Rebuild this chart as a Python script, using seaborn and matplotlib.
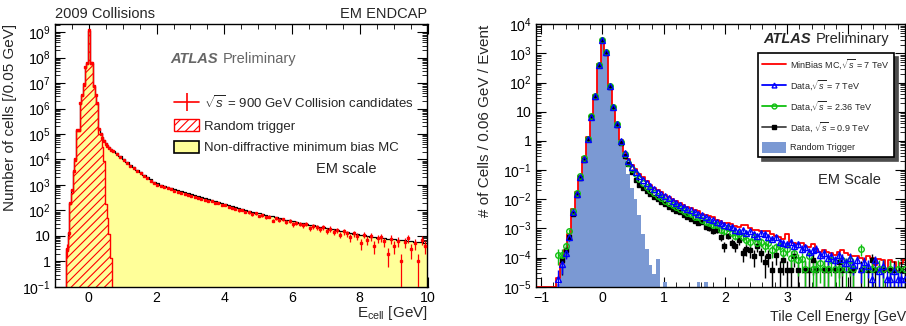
import numpy as np
import matplotlib
matplotlib.use("Agg")
import matplotlib.pyplot as plt
import seaborn as sns
from matplotlib.lines import Line2D
from matplotlib.patches import Patch
from matplotlib.ticker import LogLocator, MultipleLocator, FuncFormatter, NullFormatter

# ---------------- left panel: EM endcap, 2009 collisions ----------------
# log10(number of cells / 0.05 GeV)
# core: 27 bins of 0.05 GeV centred on -0.65 ... 0.65
em_rt_core = [0.4, 1.0, 2.24, 2.7, 3.5, 3.94, 5.13, 5.13, 6.18, 6.5, 6.9, 7.6, 7.75, 9.05,
              7.75, 7.75, 6.83, 6.5, 6.18, 5.0, 5.0, 4.5, 3.94, 2.24, 1.7, 1.06, 0.14]
em_mc_core = [0.5, 1.1, 2.3, 2.8, 3.55, 4.0, 5.15, 5.15, 6.2, 6.55, 6.95, 7.65, 7.8, 9.05,
              7.8, 7.8, 6.9, 6.55, 6.2, 5.2, 5.05, 4.88, 4.76, 4.65, 4.56, 4.48, 4.41]
em_data_core = [0.5, 1.1, 2.3, 2.8, 3.55, 4.0, 5.15, 5.15, 6.2, 6.55, 6.95, 7.65, 7.8, 9.07,
                7.8, 7.8, 6.9, 6.55, 6.2, 5.2, 5.0, 4.85, 4.72, 4.62, 4.53, 4.45, 4.38]
# tail: 93 bins of 0.1 GeV from 0.675 to 10
em_mc_tail = [4.35, 4.24, 4.12, 4.01, 3.91, 3.80, 3.70, 3.60, 3.50, 3.40,
              3.31, 3.22, 3.13, 3.06, 3.01, 2.97, 2.93, 2.89, 2.85, 2.81,
              2.77, 2.73, 2.69, 2.65, 2.61, 2.57, 2.53, 2.49, 2.45, 2.42,
              2.38, 2.34, 2.30, 2.26, 2.22, 2.18, 2.14, 2.10, 2.07, 2.03,
              1.99, 1.95, 1.91, 1.88, 1.85, 1.82, 1.79, 1.76, 1.73, 1.70,
              1.67, 1.64, 1.61, 1.58, 1.55, 1.52, 1.50, 1.47, 1.44, 1.41,
              1.38, 1.36, 1.33, 1.30, 1.27, 1.25, 1.22, 1.19, 1.17, 1.14,
              1.11, 1.08, 1.06, 1.04, 1.02, 1.00, 0.97, 0.95, 0.93, 0.92,
              0.90, 0.89, 0.87, 0.86, 0.84, 0.83, 0.82, 0.80, 0.79, 0.77,
              0.76, 0.74, 0.72]
em_data_tail = [4.32, 4.2, 4.08, 3.97, 3.86, 3.76, 3.65, 3.55, 3.45, 3.34,
                3.26, 3.16, 3.08, 3.0, 2.95, 2.9, 2.86, 2.83, 2.78, 2.74,
                2.7, 2.65, 2.62, 2.58, 2.52, 2.5, 2.45, 2.42, 2.36, 2.36,
                2.3, 2.27, 2.2, 2.2, 2.12, 2.1, 2.06, 2.0, 2.02, 1.93,
                1.92, 1.85, 1.88, 1.78, 1.8, 1.72, 1.75, 1.6, 1.7, 1.62,
                1.65, 1.55, 1.58, 1.45, 1.52, 1.48, 1.42, 1.46, 1.3, 1.38,
                1.33, 1.25, 1.35, 1.2, 1.28, 1.15, 1.22, 1.05, 1.18, 1.1,
                0.95, 1.1, 1.0, 0.7, 1.05, 0.85, 0.98, 0.6, 0.9, 0.95,
                0.78, 0.3, 0.88, 0.6, 0.8, 0.0, 0.75, 0.9, 0.48, 0.7,
                0.0, 0.85, 0.6]

# ---------------- right panel: Tile calorimeter ----------------
# log10(# cells / 0.06 GeV / event), bins centred on k*0.06 GeV, k = -18 .. 83
tile_mc7 = [-5, -5, -5, -5, -5, -5, -4.7, -4.2, -3.75, -3.2,
            -2.35, -1.75, -1.2, -0.55, 0.12, 0.88, 1.58, 2.65, 3.5, 3.05,
            1.9, 1.2, 0.6, 0.02, -0.38, -0.62, -0.82,
            -0.98, -1.12, -1.25, -1.38, -1.5, -1.6, -1.68, -1.76, -1.84, -1.92,
            -1.98, -2.05, -2.12, -2.2, -2.25, -2.3, -2.38, -2.42, -2.5, -2.55,
            -2.58, -2.6, -2.72, -2.75, -2.8, -2.8, -2.85, -2.92, -2.95, -2.88,
            -2.9, -3.0, -3.05, -3.05, -3.1, -3.08, -3.1, -3.2, -3.25, -3.3,
            -3.35, -3.2, -3.45, -3.5, -3.55, -3.5, -3.6, -3.65, -3.55, -3.7,
            -3.8, -3.75, -3.8, -3.85, -3.9, -3.8, -3.75, -3.85, -3.9, -3.95,
            -3.95, -4.0, -4.1, -3.95, -4.0, -4.25, -4.05, -4.1, -4.45, -4.1,
            -4.15, -4.45, -4.2, -4.1, -4.3]
tile_data7 = [None, None, None, None, None, None, -4.73, -4.22, -3.85, -3.3,
              -2.45, -1.82, -1.25, -0.62, 0.07, 0.83, 1.53, 2.61, 3.46, 3.04,
              1.87, 1.17, 0.58, -0.01, -0.41, -0.68, -0.9,
              -1.05, -1.2, -1.33, -1.45, -1.56, -1.66, -1.75, -1.83, -1.9, -1.97,
              -2.05, -2.12, -2.2, -2.27, -2.32, -2.38, -2.45, -2.5, -2.55, -2.62,
              -2.67, -2.72, -2.78, -2.82, -2.88, -2.92, -2.95, -3.05, -3.1, -3.05,
              -3.15, -3.1, -3.2, -3.25, -3.15, -3.2, -3.3, -3.35, -3.3, -3.45,
              -3.5, -3.55, -3.45, -3.6, -3.55, -3.7, -3.65, -3.8, -3.75, -3.7,
              -3.9, -3.85, -4.0, -3.95, -4.1, -3.9, -4.05, -4.2, -4.0, -4.25,
              -4.1, -4.4, -4.15, -4.3, -4.74, -4.1, -4.45, -4.3, -4.74, -4.74,
              -4.45, -4.74, -4.74, -4.74, -4.3]
tile_data236 = [None, None, None, None, None, None, -3.9, -3.9, -3.6, -3.1,
                -2.4, -1.8, -1.22, -0.6, 0.08, 0.85, 1.55, 2.62, 3.46, 3.04,
                1.87, 1.17, 0.57, -0.03, -0.45, -0.75, -0.98,
                -1.15, -1.3, -1.45, -1.57, -1.68, -1.78, -1.88, -1.96, -2.05, -2.12,
                -2.2, -2.27, -2.33, -2.4, -2.48, -2.52, -2.6, -2.62, -2.72, -2.78,
                -2.82, -2.9, -2.88, -3.05, -3.1, -3.0, -3.15, -3.25, -3.2, -3.3,
                -3.4, -3.45, -3.3, -3.5, -3.45, -3.6, -3.5, -3.75, -3.65, -3.6,
                -3.85, -3.7, -4.0, -3.85, -4.1, -4.05, -4.4, -3.95, -4.4, -4.4,
                -4.2, -4.4, -4.4, -4.1, -4.4, -4.4, -4.1, -4.4, -4.1, -4.4,
                None, -3.7, -4.4, None, -4.4, None, -4.4, -4.4, None, -4.4,
                None, -4.4, None, -4.4, -4.05]
tile_data09 = [None, None, None, None, None, None, None, -4.1, -3.75, -3.3,
               -2.5, -1.85, -1.27, -0.64, 0.05, 0.82, 1.52, 2.6, 3.45, 3.03,
               1.86, 1.15, 0.55, -0.06, -0.5, -0.8, -1.08,
               -1.35, -1.5, -1.62, -1.72, -1.82, -1.92, -2.0, -2.08, -2.18, -2.25,
               -2.32, -2.4, -2.45, -2.55, -2.6, -2.68, -2.75, -2.8, -2.78, -2.95,
               -3.0, -3.1, -3.05, -3.3, -3.6, -3.25, -3.5, -3.6, -3.4, -3.85,
               -3.7, -3.75, -3.95, -3.6, -3.85, -4.15, -3.95, -4.43, -3.9, -4.43,
               -4.1, -4.43, -4.43, -3.95, -4.43, None, -4.43, -4.43, -4.1, -4.43,
               None, -4.43, -4.43, None, -4.43, -4.15, -4.43, None, -4.43, -4.43,
               None, -4.43, None, -4.43, -4.1, -4.43, None, -4.43, None, -4.43,
               -4.43, None, -4.43, None, -4.43]
tile_rt = [None, None, None, None, None, None, -4.9, -4.3, -3.9, -3.35,
           -2.5, -1.85, -1.28, -0.65, 0.03, 0.8, 1.5, 2.58, 3.45, 3.03,
           1.85, 1.15, 0.55, -0.1, -0.55, -1.15, -1.6,
           -2.0, -2.55, -3.2, -3.7, -4.25, -4.55, -4.05, None, -4.85, None,
           None, None, None, None, None, None, None, -4.85, None, -4.85] + [None] * 55
# level of a single entry in each data sample (log10), used for the error bars
unit_data7, unit_data236, unit_data09 = -4.74, -4.4, -4.43


def lin(logs):
    return np.array([0.0 if v is None else 10.0 ** v for v in logs])


def lin_nan(logs):
    return np.array([np.nan if v is None else 10.0 ** v for v in logs])


def pow10(v, pos):
    e = int(round(np.log10(v)))
    if e == 0:
        return "1"
    if e == 1:
        return "10"
    return r"$10^{%d}$" % e


def root_axes(ax, xmaj, xmin):
    ax.set_yscale("log")
    ax.yaxis.set_major_locator(LogLocator(base=10, numticks=30))
    ax.yaxis.set_minor_locator(LogLocator(base=10, subs=np.arange(2, 10) * 1.0, numticks=30))
    ax.yaxis.set_minor_formatter(NullFormatter())
    ax.yaxis.set_major_formatter(FuncFormatter(pow10))
    ax.xaxis.set_major_locator(MultipleLocator(xmaj))
    ax.xaxis.set_minor_locator(MultipleLocator(xmin))
    ax.tick_params(which="both", direction="in", top=True, right=True, colors="black",
                   labelsize=10.2)
    ax.tick_params(which="major", length=7, width=0.8, pad=3)
    ax.tick_params(which="minor", length=3.5, width=0.6)
    for s in ax.spines.values():
        s.set_linewidth(1.0)
        s.set_color("black")


sns.set_style("ticks")
plt.rcParams["font.family"] = ["Liberation Sans", "DejaVu Sans"]
plt.rcParams["mathtext.fontset"] = "custom"
plt.rcParams["mathtext.rm"] = "Liberation Sans"
plt.rcParams["mathtext.it"] = "Liberation Sans:italic"
plt.rcParams["mathtext.bf"] = "Liberation Sans:bold"
plt.rcParams["hatch.color"] = "red"
plt.rcParams["hatch.linewidth"] = 0.8

W, H = 906, 326
fig = plt.figure(figsize=(W / 100, H / 100), dpi=100)
ax1 = fig.add_axes([55 / W, 39.3 / H, 372.5 / W, 262.4 / H])
ax2 = fig.add_axes([536 / W, 39.3 / H, 369 / W, 262.4 / H])

# --- left panel ---
core_edges = np.round(-0.675 + 0.05 * np.arange(28), 3)
tail_edges = np.round(0.675 + 0.1 * np.arange(94), 3)
tail_edges[-1] = 10.0
em_edges = np.concatenate([core_edges, tail_edges[1:]])
em_x = 0.5 * (em_edges[:-1] + em_edges[1:])
core_x = em_x[:27]

sns.histplot(x=em_x, weights=lin(em_mc_core + em_mc_tail), bins=list(em_edges),
             element="step", fill=True, color="black", facecolor="#ffff99",
             edgecolor="black", linewidth=0.9, alpha=1, ax=ax1)
sns.histplot(x=core_x, weights=lin(em_rt_core), bins=list(core_edges), element="step",
             fill=True, color="red", facecolor="none", edgecolor="red", hatch="////",
             linewidth=1.0, alpha=1, ax=ax1)

n = lin_nan(em_data_core + em_data_tail)
err = np.sqrt(n)
ax1.errorbar(em_x, n, yerr=[np.minimum(err, n * 0.999), err], fmt="s", ms=2.0,
             color="red", ecolor="red", elinewidth=0.9, capsize=0, zorder=5)

root_axes(ax1, 2, 0.5)
ax1.set_xlim(-1, 10)
ax1.set_ylim(0.1, 2.05e9)
ax1.set_ylabel("Number of cells [/0.05 GeV]", fontsize=11, loc="top")
ax1.yaxis.set_label_coords(-0.102, 1.0)
ax1.set_xlabel(r"E$_{\mathrm{cell}}$ [GeV]", fontsize=11, loc="right")
ax1.xaxis.set_label_coords(1.0, -0.102)
ax1.xaxis.label.set_va("center")

h1 = [Line2D([], [], color="red", lw=1.2, marker="|", ms=13, mew=1.2),
      Patch(facecolor="white", edgecolor="red", hatch="////", lw=1.0),
      Patch(facecolor="#ffff99", edgecolor="black", lw=1.2)]
l1 = [r"$\sqrt{s}$ = 900 GeV Collision candidates", "Random trigger",
      "Non-diffractive minimum bias MC"]
ax1.legend(h1, l1, loc="upper left", bbox_to_anchor=(174 / W, 1 - 94 / H),
           bbox_transform=fig.transFigure, frameon=False, fontsize=9.5, borderpad=0,
           borderaxespad=0, handlelength=1.9, handleheight=1.1, labelspacing=0.6,
           handletextpad=0.4)

fig.text(55 / W, 1 - 14 / H, "2009 Collisions", fontsize=10.5, va="center", ha="left")
fig.text(427 / W, 1 - 14 / H, "EM ENDCAP", fontsize=10.5, va="center", ha="right")
fig.text(170 / W, 1 - 59 / H, "ATLAS", fontsize=10.5, fontweight="bold", fontstyle="italic",
         color="#666666", va="center")
fig.text(223 / W, 1 - 59 / H, "Preliminary", fontsize=10.5, color="#666666", va="center")
fig.text(316 / W, 1 - 169 / H, "EM scale", fontsize=10.5, va="center")

# --- right panel ---
tile_x = np.round(0.06 * np.arange(-18, 84), 2)
tile_edges = np.round(np.append(tile_x - 0.03, tile_x[-1] + 0.03), 2)

sns.histplot(x=tile_x, weights=lin(tile_rt), bins=list(tile_edges), element="step",
             fill=True, color="#7b99d3", facecolor="#7b99d3", edgecolor="none", alpha=1,
             ax=ax2)
sns.histplot(x=tile_x, weights=lin(tile_mc7), bins=list(tile_edges), element="step",
             fill=False, color="red", linewidth=1.3, ax=ax2)

styles = [(tile_data09, unit_data09, dict(fmt="s", ms=3.2, color="black", mfc="black")),
          (tile_data236, unit_data236, dict(fmt="o", ms=4.0, color="#10c010", mfc="none")),
          (tile_data7, unit_data7, dict(fmt="^", ms=4.2, color="blue", mfc="none"))]
for logs, unit, st in styles:
    v = lin_nan(logs)
    ok = ~np.isnan(v)
    e = np.sqrt(v[ok] * 10.0 ** unit)
    ax2.errorbar(tile_x[ok], v[ok], yerr=[np.minimum(e, v[ok] * 0.999), e], elinewidth=1.0,
                 capsize=0, mew=1.0, zorder=5, **st)

root_axes(ax2, 1, 0.2)
ax2.set_xlim(-1.08, 4.92)
ax2.set_ylim(1e-5, 1e4)
ax2.set_ylabel("# of Cells / 0.06 GeV / Event", fontsize=11, loc="top")
ax2.yaxis.set_label_coords(-0.119, 1.0)
ax2.set_xlabel("Tile Cell Energy [GeV]", fontsize=10.2)
ax2.xaxis.set_label_coords(0.634, -0.114)
ax2.xaxis.label.set_ha("left")
ax2.xaxis.label.set_va("center")

h2 = [Line2D([], [], color="red", lw=1.3),
      Line2D([], [], color="blue", lw=1.3, marker="^", mfc="none", ms=3.5),
      Line2D([], [], color="#10c010", lw=1.3, marker="o", mfc="none", ms=3.5),
      Line2D([], [], color="#444444", lw=1.3, marker="s", mfc="black", mec="black", ms=3),
      Patch(facecolor="#7b99d3", edgecolor="none")]
l2 = [r"MinBias MC,$\sqrt{s}$ = 7 TeV", r"Data,$\sqrt{s}$ = 7 TeV",
      r"Data,$\sqrt{s}$ = 2.36 TeV", r"Data, $\sqrt{s}$ = 0.9 TeV", "Random Trigger"]
leg2 = ax2.legend(h2, l2, loc="upper left", bbox_to_anchor=(758 / W, 1 - 53 / H),
                  bbox_transform=fig.transFigure, fontsize=6.5, borderpad=0.45,
                  borderaxespad=0, handlelength=2.7, handleheight=1.5, labelspacing=0.8,
                  handletextpad=0.4, fancybox=False, framealpha=1,
                  shadow={"ox": 3, "oy": -3, "color": "0.3", "alpha": 1})
leg2.get_frame().set_edgecolor("black")
leg2.get_frame().set_linewidth(1.2)

fig.text(763 / W, 1 - 39 / H, "ATLAS", fontsize=10.5, fontweight="bold", fontstyle="italic",
         va="center")
fig.text(816 / W, 1 - 39 / H, "Preliminary", fontsize=10.5, va="center")
fig.text(818 / W, 1 - 180 / H, "EM Scale", fontsize=10.5, va="center")

fig.savefig("out.png", dpi=100)
